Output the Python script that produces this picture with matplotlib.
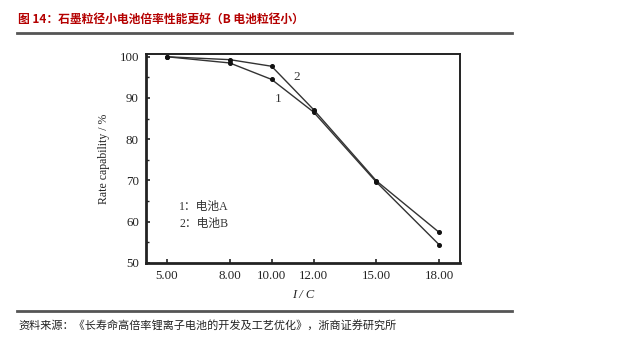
import matplotlib.pyplot as plt
from matplotlib.ticker import MultipleLocator
from matplotlib.lines import Line2D

plt.rcParams['font.family'] = ['Liberation Serif', 'Noto Sans CJK SC', 'DejaVu Sans']

# discharge rate (C) and rate capability (%)
rates = [5, 8, 10, 12, 15, 18]
cell_a = [100.0, 98.5, 94.5, 86.6, 69.6, 54.4]
cell_b = [100.0, 99.3, 97.7, 87.2, 69.9, 57.4]
rate_labels = ['5.00', '8.00', '10.00', '12.00', '15.00', '18.00']

title = '图 14：石墨粒径小电池倍率性能更好（B 电池粒径小）'
source = '资料来源：《长寿命高倍率锂离子电池的开发及工艺优化》，浙商证券研究所'

fig = plt.figure(figsize=(6.4, 3.41), dpi=100)
ax = fig.add_axes([0.228, 0.229, 0.491, 0.613])

line_kw = dict(color='#333333', lw=1.0, marker='o', ms=2.6, mfc='#111111', mec='#111111')
ax.plot(rates, cell_a, **line_kw)
ax.plot(rates, cell_b, **line_kw)

ax.set_xlim(4, 19)
ax.set_ylim(50, 100.7)
ax.set_xticks(rates)
ax.set_xticklabels(rate_labels)
ax.yaxis.set_major_locator(MultipleLocator(10))
ax.yaxis.set_minor_locator(MultipleLocator(5))
ax.tick_params(which='both', direction='in', labelsize=9.3, colors='#222222')
ax.tick_params(which='major', length=3, width=1.2, pad=5)
ax.tick_params(which='minor', length=2, width=1.0)
ax.tick_params(axis='x', which='minor', length=0)

for side in ['top', 'right']:
    ax.spines[side].set_linewidth(1.4)
for side in ['left', 'bottom']:
    ax.spines[side].set_linewidth(2.0)
for sp in ax.spines.values():
    sp.set_color('#222222')

ax.set_ylabel('Rate capability / %', fontsize=8.5, color='#222222', labelpad=7)
ax.set_xlabel('I / C', fontsize=9, style='italic', color='#222222', labelpad=5)

# curve numbers and legend text
ax.text(10.3, 89.7, '1', fontsize=9.5, color='#333333', ha='center', va='center')
ax.text(11.2, 95.1, '2', fontsize=9.5, color='#333333', ha='center', va='center')
ax.text(5.58, 63.5, '1：电池A', fontsize=8.5, color='#333333', va='center')
ax.text(5.58, 59.4, '2：电池B', fontsize=8.5, color='#333333', va='center')

# header, rules and source
fig.text(18 / 640, 1 - 19 / 341, title, fontsize=8.5, fontweight='bold', color='#b40000',
         family=['Noto Sans CJK SC', 'DejaVu Sans'], va='center', ha='left')
fig.add_artist(Line2D([17 / 640, 512 / 640], [1 - 33 / 341] * 2, color='#555555', lw=2.0))
fig.add_artist(Line2D([17 / 640, 512 / 640], [1 - 311 / 341] * 2, color='#555555', lw=2.0))
fig.text(18 / 640, 1 - 325 / 341, source, fontsize=8.0, color='#222222',
         family=['Noto Sans CJK SC', 'DejaVu Sans'], va='center', ha='left')

fig.savefig('out.png', dpi=100)
